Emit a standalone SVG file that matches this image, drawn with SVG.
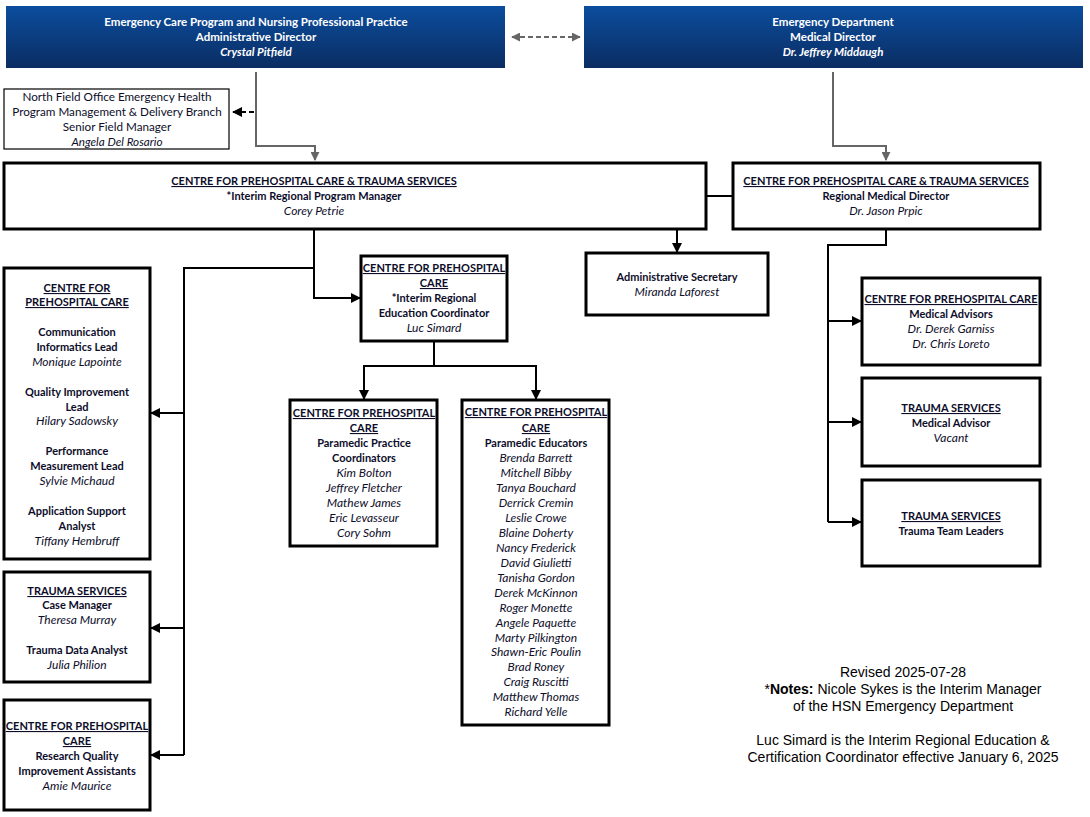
<svg xmlns="http://www.w3.org/2000/svg" width="1090" height="817" viewBox="0 0 1090 817">
<defs>
<linearGradient id="hdr" x1="0" y1="0" x2="0" y2="1">
<stop offset="0" stop-color="#0b4d9e"/>
<stop offset="1" stop-color="#0b2d62"/>
</linearGradient>
<marker id="ahb" viewBox="0 0 10 10" refX="9" refY="5" markerWidth="10" markerHeight="10" orient="auto-start-reverse" markerUnits="userSpaceOnUse">
<path d="M0,0 L10,5 L0,10 z" fill="#000"/>
</marker>
<marker id="ahg" viewBox="0 0 10 10" refX="9" refY="5" markerWidth="9" markerHeight="9" orient="auto-start-reverse" markerUnits="userSpaceOnUse">
<path d="M0,0 L10,5 L0,10 z" fill="#666"/>
</marker>
</defs>
<style>
text{font-family:Lato,"Liberation Sans",sans-serif;font-size:11px;fill:#0d0d2a;text-anchor:middle}
.h{fill:#fff;font-weight:bold;font-size:11.5px}
.hi{fill:#fff;font-weight:bold;font-style:italic;font-size:11.5px}
.b{font-weight:bold}
.u{font-weight:bold;text-decoration:underline}
.i{font-style:italic;font-size:12px}
.nf{font-size:11.7px}
.n{font-family:"Liberation Sans",Arial,sans-serif;font-size:14px;fill:#000}
.box{fill:#fff;stroke:#000;stroke-width:3}
.thin{fill:#fff;stroke:#000;stroke-width:1.2}
.c{fill:none;stroke:#000;stroke-width:2}
.g{fill:none;stroke:#666;stroke-width:2}
</style>

<g id="connectors">
<path class="g" d="M256,72 V146 H315 V160" marker-end="url(#ahg)"/>
<path class="g" d="M833,72 V146 H886 V160" marker-end="url(#ahg)"/>
<path class="g" d="M512,37 H580" stroke-dasharray="5,3" marker-start="url(#ahg)" marker-end="url(#ahg)"/>
<path class="c" d="M254,112 H233" stroke-dasharray="5,3" marker-end="url(#ahb)"/>
<path class="c" d="M706,196 H733"/>
<path class="c" d="M677,196 V252" marker-end="url(#ahb)"/>
<path class="c" d="M314,229 V298 H360" marker-end="url(#ahb)"/>
<path class="c" d="M314,268 H184 V755"/>
<path class="c" d="M184,413 H151" marker-end="url(#ahb)"/>
<path class="c" d="M184,628 H151" marker-end="url(#ahb)"/>
<path class="c" d="M184,755 H151" marker-end="url(#ahb)"/>
<path class="c" d="M434,341 V366 H364 V399" marker-end="url(#ahb)"/>
<path class="c" d="M434,366 H536 V399" marker-end="url(#ahb)"/>
<path class="c" d="M886,229 V245 H828 V522"/>
<path class="c" d="M828,321 H861" marker-end="url(#ahb)"/>
<path class="c" d="M828,422 H861" marker-end="url(#ahb)"/>
<path class="c" d="M828,522 H861" marker-end="url(#ahb)"/>
</g>

<g id="admin-director">
<rect x="6" y="6" width="499" height="62" fill="url(#hdr)"/>
<text class="h" x="256" y="26">Emergency Care Program and Nursing Professional Practice</text>
<text class="h" x="256" y="41">Administrative Director</text>
<text class="hi" x="256" y="56">Crystal Pitfield</text>
</g>

<g id="medical-director">
<rect x="584" y="6" width="499" height="62" fill="url(#hdr)"/>
<text class="h" x="833" y="26">Emergency Department</text>
<text class="h" x="833" y="41">Medical Director</text>
<text class="hi" x="833" y="56">Dr. Jeffrey Middaugh</text>
</g>

<g id="north-field">
<rect class="thin" x="4" y="89" width="225" height="60"/>
<text class="nf" x="117" y="101">North Field Office Emergency Health</text>
<text class="nf" x="117" y="116">Program Management &amp; Delivery Branch</text>
<text class="nf" x="117" y="131">Senior Field Manager</text>
<text class="nf i" x="117" y="146">Angela Del Rosario</text>
</g>

<g id="program-manager">
<rect class="box" x="4" y="163" width="702" height="66"/>
<text class="u" x="314" y="185">CENTRE FOR PREHOSPITAL CARE &amp; TRAUMA SERVICES</text>
<text class="b" x="314" y="200">*Interim Regional Program Manager</text>
<text class="i" x="314" y="215">Corey Petrie</text>
</g>

<g id="regional-medical-director">
<rect class="box" x="733" y="163" width="307" height="66"/>
<text class="u" x="886" y="185">CENTRE FOR PREHOSPITAL CARE &amp; TRAUMA SERVICES</text>
<text class="b" x="886" y="200">Regional Medical Director</text>
<text class="i" x="886" y="215">Dr. Jason Prpic</text>
</g>

<g id="admin-secretary">
<rect class="box" x="586" y="253" width="182" height="62"/>
<text class="b" x="677" y="281">Administrative Secretary</text>
<text class="i" x="677" y="296">Miranda Laforest</text>
</g>

<g id="education-coordinator">
<rect class="box" x="361" y="256" width="146" height="85"/>
<text class="u" x="434" y="272">CENTRE FOR PREHOSPITAL</text>
<text class="u" x="434" y="287">CARE</text>
<text class="b" x="434" y="302">*Interim Regional</text>
<text class="b" x="434" y="317">Education Coordinator</text>
<text class="i" x="434" y="332">Luc Simard</text>
</g>

<g id="practice-coordinators">
<rect class="box" x="290" y="400" width="147" height="146"/>
<text class="u" x="364" y="417">CENTRE FOR PREHOSPITAL</text>
<text class="u" x="364" y="432">CARE</text>
<text class="b" x="364" y="447">Paramedic Practice</text>
<text class="b" x="364" y="462">Coordinators</text>
<text class="i" x="364" y="477">Kim Bolton</text>
<text class="i" x="364" y="492">Jeffrey Fletcher</text>
<text class="i" x="364" y="507">Mathew James</text>
<text class="i" x="364" y="522">Eric Levasseur</text>
<text class="i" x="364" y="537">Cory Sohm</text>
</g>

<g id="paramedic-educators">
<rect class="box" x="462" y="400" width="147" height="325"/>
<text class="u" x="536" y="416">CENTRE FOR PREHOSPITAL</text>
<text class="u" x="536" y="432">CARE</text>
<text class="b" x="536" y="447">Paramedic Educators</text>
<text class="i" x="536" y="462">Brenda Barrett</text>
<text class="i" x="536" y="477">Mitchell Bibby</text>
<text class="i" x="536" y="492">Tanya Bouchard</text>
<text class="i" x="536" y="507">Derrick Cremin</text>
<text class="i" x="536" y="522">Leslie Crowe</text>
<text class="i" x="536" y="537">Blaine Doherty</text>
<text class="i" x="536" y="552">Nancy Frederick</text>
<text class="i" x="536" y="567">David Giulietti</text>
<text class="i" x="536" y="582">Tanisha Gordon</text>
<text class="i" x="536" y="597">Derek McKinnon</text>
<text class="i" x="536" y="612">Roger Monette</text>
<text class="i" x="536" y="627">Angele Paquette</text>
<text class="i" x="536" y="642">Marty Pilkington</text>
<text class="i" x="536" y="656">Shawn-Eric Poulin</text>
<text class="i" x="536" y="671">Brad Roney</text>
<text class="i" x="536" y="686">Craig Ruscitti</text>
<text class="i" x="536" y="701">Matthew Thomas</text>
<text class="i" x="536" y="716">Richard Yelle</text>
</g>

<g id="prehospital-leads">
<rect class="box" x="4" y="268" width="146" height="291"/>
<text class="u" x="77" y="292">CENTRE FOR</text>
<text class="u" x="77" y="306">PREHOSPITAL CARE</text>
<text class="b" x="77" y="336">Communication</text>
<text class="b" x="77" y="351">Informatics Lead</text>
<text class="i" x="77" y="366">Monique Lapointe</text>
<text class="b" x="77" y="396">Quality Improvement</text>
<text class="b" x="77" y="411">Lead</text>
<text class="i" x="77" y="425">Hilary Sadowsky</text>
<text class="b" x="77" y="455">Performance</text>
<text class="b" x="77" y="470">Measurement Lead</text>
<text class="i" x="77" y="485">Sylvie Michaud</text>
<text class="b" x="77" y="515">Application Support</text>
<text class="b" x="77" y="530">Analyst</text>
<text class="i" x="77" y="545">Tiffany Hembruff</text>
</g>

<g id="trauma-case">
<rect class="box" x="4" y="572" width="146" height="110"/>
<text class="u" x="77" y="595">TRAUMA SERVICES</text>
<text class="b" x="77" y="609">Case Manager</text>
<text class="i" x="77" y="624">Theresa Murray</text>
<text class="b" x="77" y="654">Trauma Data Analyst</text>
<text class="i" x="77" y="669">Julia Philion</text>
</g>

<g id="research-assistants">
<rect class="box" x="4" y="700" width="146" height="110"/>
<text class="u" x="77" y="730">CENTRE FOR PREHOSPITAL</text>
<text class="u" x="77" y="745">CARE</text>
<text class="b" x="77" y="760">Research Quality</text>
<text class="b" x="77" y="775">Improvement Assistants</text>
<text class="i" x="77" y="790">Amie Maurice</text>
</g>

<g id="medical-advisors">
<rect class="box" x="862" y="278" width="178" height="87"/>
<text class="u" x="951" y="303">CENTRE FOR PREHOSPITAL CARE</text>
<text class="b" x="951" y="318">Medical Advisors</text>
<text class="i" x="951" y="333">Dr. Derek Garniss</text>
<text class="i" x="951" y="348">Dr. Chris Loreto</text>
</g>

<g id="trauma-medical-advisor">
<rect class="box" x="862" y="378" width="178" height="88"/>
<text class="u" x="951" y="412">TRAUMA SERVICES</text>
<text class="b" x="951" y="427">Medical Advisor</text>
<text class="i" x="951" y="442">Vacant</text>
</g>

<g id="trauma-team-leaders">
<rect class="box" x="862" y="480" width="178" height="86"/>
<text class="u" x="951" y="520">TRAUMA SERVICES</text>
<text class="b" x="951" y="535">Trauma Team Leaders</text>
</g>

<g id="notes">
<text class="n" x="903" y="677">Revised 2025-07-28</text>
<text class="n" x="903" y="694">*<tspan font-weight="bold">Notes:</tspan> Nicole Sykes is the Interim Manager</text>
<text class="n" x="903" y="711">of the HSN Emergency Department</text>
<text class="n" x="903" y="745">Luc Simard is the Interim Regional Education &amp;</text>
<text class="n" x="903" y="762">Certification Coordinator effective January 6, 2025</text>
</g>
</svg>
